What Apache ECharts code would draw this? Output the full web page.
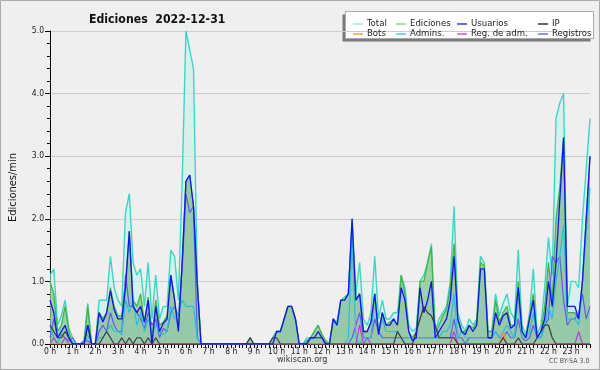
<!DOCTYPE html>
<html><head><meta charset="utf-8">
<script src="https://cdn.jsdelivr.net/npm/echarts@6/dist/echarts.min.js"></script>
<style>html,body{margin:0;padding:0;background:#efefef}#c{width:600px;height:370px}</style>
</head><body><div id="c"></div>
<script>
const hourLabels = ['0 h','1 h','2 h','3 h','4 h','5 h','6 h','7 h','8 h','9 h','10 h','11 h','12 h','13 h','14 h','15 h','16 h','17 h','18 h','19 h','20 h','21 h','22 h','23 h'];
// one value per 10 minutes (6 per hour)
const total = [
 1.1,1.2,0.3,0.45,0.7,0.25,  0.1,0,0,0.05,0.65,0,  0,0.7,0.7,0.7,1.4,0.9,  0.7,0.6,2.1,2.4,1.3,1.1,
 1.2,0.6,1.3,0.4,1.1,0.4,  0.6,0.6,1.5,1.4,0.7,2.6,  5.0,4.7,4.4,1.0,0,0,  0,0,0,0,0,0,
 0,0,0,0,0,0.1,  0,0,0,0,0,0.1,  0.2,0.2,0.4,0.6,0.6,0.4,  0,0,0.05,0.1,0.2,0.3,
 0.15,0.05,0,0.4,0.35,0.7,  0.75,0.8,2.0,0.8,1.3,0.4,  0.3,0.5,1.4,0.4,0.7,0.4,  0.4,0.5,0.5,1.1,0.9,0.3,
 0.2,0.25,1.0,1.1,1.3,1.6,  0.2,0.4,0.5,0.6,1.0,2.2,  0.5,0.3,0.2,0.4,0.3,0.4,  1.4,1.3,0.2,0.2,0.8,0.45,
 0.65,0.8,0.5,0.4,1.5,0.3,  0.15,0.5,1.2,0.15,0.3,0.9,  1.7,1.1,3.6,3.85,4.0,0.6,  1.0,1.0,0.9,2.0,2.8,3.6];
const ediciones = [
 1.0,0.8,0.2,0.3,0.6,0.2,  0,0,0,0,0.6,0,  0,0.5,0.4,0.5,0.9,0.6,  0.45,0.45,1.0,1.8,0.7,0.6,
 0.8,0.35,0.75,0.1,0.7,0.3,  0.35,0.45,1.1,0.7,0.25,1.3,  2.6,2.7,2.2,1.0,0,0,  0,0,0,0,0,0,
 0,0,0,0,0,0.1,  0,0,0,0,0,0.1,  0.2,0.2,0.4,0.6,0.6,0.4,  0,0,0.05,0.1,0.2,0.3,
 0.15,0.05,0,0.4,0.3,0.7,  0.7,0.8,1.9,0.7,0.8,0.2,  0.2,0.35,0.8,0.2,0.5,0.3,  0.35,0.4,0.3,1.1,0.8,0.2,
 0.1,0.2,1.0,1.0,1.3,1.55,  0.15,0.3,0.45,0.55,0.9,1.6,  0.4,0.2,0.2,0.3,0.25,0.35,  1.3,1.25,0.2,0.2,0.7,0.35,
 0.5,0.6,0.3,0.3,1.0,0.2,  0.1,0.45,0.8,0.1,0.2,0.6,  1.3,0.7,2.0,2.5,3.3,0.5,  0.5,0.5,0.4,1.0,2.0,3.0];
const usuarios = [
 0.7,0.5,0.1,0.2,0.3,0.1,  0,0,0,0,0.3,0,  0,0.5,0.35,0.5,0.85,0.55,  0.4,0.4,0.9,1.8,0.6,0.5,
 0.6,0.35,0.7,0,0.6,0.2,  0.33,0.4,1.1,0.7,0.2,1.3,  2.6,2.7,2.2,0.95,0,0,  0,0,0,0,0,0,
 0,0,0,0,0,0,  0,0,0,0,0,0,  0.2,0.2,0.4,0.6,0.6,0.4,  0,0,0,0.1,0.1,0.2,
 0.1,0,0,0.4,0.3,0.7,  0.7,0.8,2.0,0.7,0.8,0.2,  0.2,0.35,0.8,0.15,0.5,0.3,  0.3,0.4,0.3,0.9,0.7,0.2,
 0.05,0.1,0.9,0.5,0.7,1.0,  0.1,0.2,0.3,0.4,0.7,1.4,  0.4,0.2,0.15,0.3,0.2,0.3,  1.2,1.2,0.1,0.1,0.5,0.3,
 0.45,0.5,0.25,0.3,0.9,0.2,  0.1,0.4,0.7,0.1,0.2,0.4,  1.0,0.6,1.3,2.3,3.3,0.6,  0.6,0.6,0.4,1.0,2.0,3.0];
const ip = [
 0.3,0.2,0.1,0.1,0.2,0.1,  0,0,0,0,0.3,0,  0,0,0.1,0.2,0.1,0,  0,0.1,0,0.1,0,0.1,
 0.1,0,0.1,0,0.1,0,  0,0,0,0,0,0,  0,0,0,0,0,0,  0,0,0,0,0,0,
 0,0,0,0,0,0.1,  0,0,0,0,0,0.1,  0.1,0,0,0,0,0,  0,0,0,0.1,0.1,0.1,
 0.1,0,0,0,0,0,  0,0,0,0,0,0,  0,0,0,0,0,0,  0,0,0.2,0.1,0,0,
 0,0.2,0.4,0.6,0.5,0.45,  0.3,0.1,0.1,0.1,0.1,0.1,  0,0,0,0,0,0,  0,0,0,0,0,0,
 0.1,0,0,0,0.1,0,  0,0,0,0.1,0.2,0.3,  0.3,0.1,0,0,0,0,  0,0,0,0,0,0];
const bots = [
 0,0,0,0,0,0,  0,0,0,0,0,0,  0,0,0,0,0,0,  0,0,0,0,0,0,
 0,0,0,0,0,0,  0,0,0,0,0,0,  0,0,0,0,0,0,  0,0,0,0,0,0,
 0,0,0,0,0,0,  0,0,0,0,0,0,  0,0,0,0,0,0,  0,0,0,0,0,0,
 0,0,0,0,0,0,  0,0,0,0,0,0,  0,0,0,0,0,0,  0,0,0,0,0,0,
 0,0,0,0,0,0,  0,0,0,0,0,0,  0,0,0,0,0,0,  0,0,0,0,0,0,
 0.2,0,0,0,0,0,  0,0,0,0,0,0,  0,0,0,0,0,0,  0,0,0,0,0,0];
const admins = [
 0.3,0.1,0,0.2,0.3,0.1,  0.05,0,0,0,0.15,0,  0,0.1,0.1,0.2,0.3,0.2,  0.2,0.15,0.7,0.5,0.7,0.3,
 0.5,0.2,0.4,0.2,0.3,0.2,  0.15,0.2,0.6,0.4,0.5,0.7,  0.6,0.6,0.6,0.1,0,0,  0,0,0,0,0,0,
 0,0,0,0,0,0,  0,0,0,0,0,0,  0,0,0,0,0,0,  0,0,0.1,0.1,0.1,0.1,
 0.1,0,0,0,0,0,  0,0.1,1.7,0.1,0,0.1,  0.1,0.1,0.8,0.2,0.4,0.2,  0.2,0.2,0.2,0.1,0.1,0.1,
 0.1,0.1,0.1,0.1,0.1,0.1,  0.1,0.1,0.2,0.2,0.3,0.8,  0.1,0.2,0.1,0.1,0.1,0.1,  0.1,0.1,0.1,0.1,0.2,0.1,
 0.2,0.3,0.2,0.1,0.8,0.1,  0.1,0.2,0.5,0.1,0.1,0.3,  0.6,0.4,1.0,1.4,1.9,0.4,  0.4,0.4,0.3,1.0,1.8,2.5];
const regAdm = [
 0,0.1,0,0,0.1,0,  0,0,0,0,0,0,  0,0,0,0,0,0,  0,0,0,0,0,0,
 0,0,0,0,0,0,  0,0,0,0,0,0,  0,0,0,0,0,0,  0,0,0,0,0,0,
 0,0,0,0,0,0,  0,0,0,0,0,0,  0,0,0,0,0,0,  0,0,0,0,0,0,
 0,0,0,0,0,0,  0,0,0,0,0.3,0,  0.1,0,0,0,0,0,  0,0,0,0,0,0,
 0,0,0,0,0,0,  0,0,0,0,0,0.2,  0,0,0,0,0,0,  0,0,0,0,0,0,
 0,0,0,0,0,0,  0,0,0,0,0,0,  0,0,0,0,0,0,  0,0,0.2,0,0,0];
const registros = [
 0.1,0.4,0.1,0.15,0.1,0.05,  0.1,0,0,0.05,0.05,0,  0,0.2,0.3,0.2,0.5,0.3,  0.2,0.2,1.1,0.6,0.6,0.5,
 0.4,0.25,0.5,0.3,0.4,0.1,  0.25,0.2,0.5,0.6,0.45,1.2,  2.4,2.1,2.2,0.1,0,0,  0,0,0,0,0,0,
 0,0,0,0,0,0,  0,0,0,0,0,0,  0,0,0,0,0,0,  0,0,0,0,0,0,
 0,0,0,0,0,0,  0,0,0.1,0.3,0.5,0.1,  0.1,0.1,0.4,0.2,0.1,0.1,  0.1,0.1,0.1,0.1,0.1,0.1,
 0.1,0.1,0.1,0.1,0.1,0.1,  0.1,0.1,0.1,0.1,0.1,0.4,  0.1,0.1,0,0.1,0.1,0.1,  0.1,0.1,0.1,0.1,0.2,0.1,
 0.1,0.2,0.1,0.1,0.4,0.1,  0.05,0.1,0.3,0.1,0.1,0.3,  0.4,1.4,1.3,1.4,0.7,0.3,  0.4,0.4,0.5,0.8,0.4,0.6];

const cats = [];
for (let i = 0; i < total.length; i++) cats.push(i);

const FONT = '"DejaVu Sans Condensed", "DejaVu Sans", sans-serif';
const chart = echarts.init(document.getElementById('c'), null, {renderer: 'canvas'});

function line(name, data, color, width, z, area) {
  const s = {name, type: 'line', data, symbol: 'none', z,
    lineStyle: {color, width}, itemStyle: {color}, emphasis: {disabled: true}};
  if (area) s.areaStyle = {color: area, opacity: 1};
  return s;
}
function legendCol(left, names) {
  return {left, top: 14, orient: 'vertical', itemGap: 0, itemWidth: 10, itemHeight: 1.5,
    icon: 'rect', selectedMode: false, z: 50, zlevel: 0,
    textStyle: {fontSize: 9.5, color: '#222', fontFamily: FONT, lineHeight: 10, padding: [0, 0, 0, -1]},
    data: names};
}

chart.setOption({
  backgroundColor: '#efefef',
  animation: false,
  title: {text: 'Ediciones  2022-12-31', left: 84, top: 9,
    textStyle: {fontSize: 12.2, fontWeight: 'bold', color: '#111', fontFamily: FONT}},
  grid: {left: 46, right: 10, top: 31, bottom: 26},
  legend: [
    legendCol(348, [{name: 'Total', itemStyle: {color: '#aee6de'}}, {name: 'Bots', itemStyle: {color: '#f5a040'}}]),
    legendCol(391, [{name: 'Ediciones', itemStyle: {color: '#8fd48f'}}, {name: 'Admins.', itemStyle: {color: '#4cc8dc'}}]),
    legendCol(452, [{name: 'Usuarios', itemStyle: {color: '#3a3ad8'}}, {name: 'Reg. de adm.', itemStyle: {color: '#d050e0'}}]),
    legendCol(533, [{name: 'IP', itemStyle: {color: '#333333'}}, {name: 'Registros', itemStyle: {color: '#7070e6'}}])
  ],
  xAxis: {type: 'category', data: cats, boundaryGap: false,
    axisLine: {lineStyle: {color: '#000', width: 1}},
    axisTick: {show: true, interval: 0, length: 4, lineStyle: {color: '#000'}},
    axisLabel: {interval: 5, margin: 3, fontSize: 8.5, color: '#222', fontFamily: FONT,
      formatter: (v, idx) => hourLabels[Math.round(idx / 6)]},
    splitLine: {show: false}},
  yAxis: {type: 'value', min: 0, max: 5, interval: 1,
    name: 'Ediciones/min', nameLocation: 'middle', nameGap: 31, nameRotate: 90,
    nameTextStyle: {fontSize: 11, color: '#111', fontFamily: FONT},
    axisLine: {show: true, lineStyle: {color: '#000'}},
    axisTick: {show: true, length: 5, lineStyle: {color: '#000'}},
    minorTick: {show: true, splitNumber: 5, length: 3, lineStyle: {color: '#000'}},
    axisLabel: {fontSize: 8.5, color: '#222', margin: 6, fontFamily: FONT, formatter: v => v.toFixed(1)},
    splitLine: {lineStyle: {color: '#cccccc', width: 1}}},
  graphic: {z: 1, elements: [
    {type: 'rect', shape: {x: 0.5, y: 0.5, width: 599, height: 369}, style: {fill: 'none', stroke: '#aaaaaa', lineWidth: 1}, silent: true},
    {type: 'rect', shape: {x: 342.5, y: 14.5, width: 248, height: 27}, style: {fill: '#7a7a7a'}, silent: true},
    {type: 'rect', shape: {x: 345.5, y: 11.5, width: 248, height: 27}, style: {fill: '#ffffff', stroke: '#aaaaaa', lineWidth: 1}, silent: true},
    {type: 'text', left: 277, top: 355, style: {text: 'wikiscan.org', fill: '#333', font: '9px ' + FONT}, silent: true},
    {type: 'text', left: 549, top: 358, style: {text: 'CC BY-SA 3.0', fill: '#555', font: '7px ' + FONT}, silent: true}
  ]},
  series: [
    line('Total', total, '#3dd6c6', 1.4, 2, 'rgba(200,240,232,0.6)'),
    line('Ediciones', ediciones, '#44b444', 1.3, 3, 'rgba(95,180,95,0.5)'),
    line('Registros', registros, '#6060ee', 1.2, 4, null),
    line('Admins.', admins, '#2ec4dc', 1.2, 5, null),
    line('Reg. de adm.', regAdm, '#c040e0', 1.2, 6, null),
    line('Bots', bots, '#f59a30', 1.2, 7, null),
    line('IP', ip, '#3a3a3a', 1.2, 8, null),
    line('Usuarios', usuarios, '#1414ee', 1.3, 9, 'rgba(60,90,200,0.07)')
  ]
});
</script></body></html>
